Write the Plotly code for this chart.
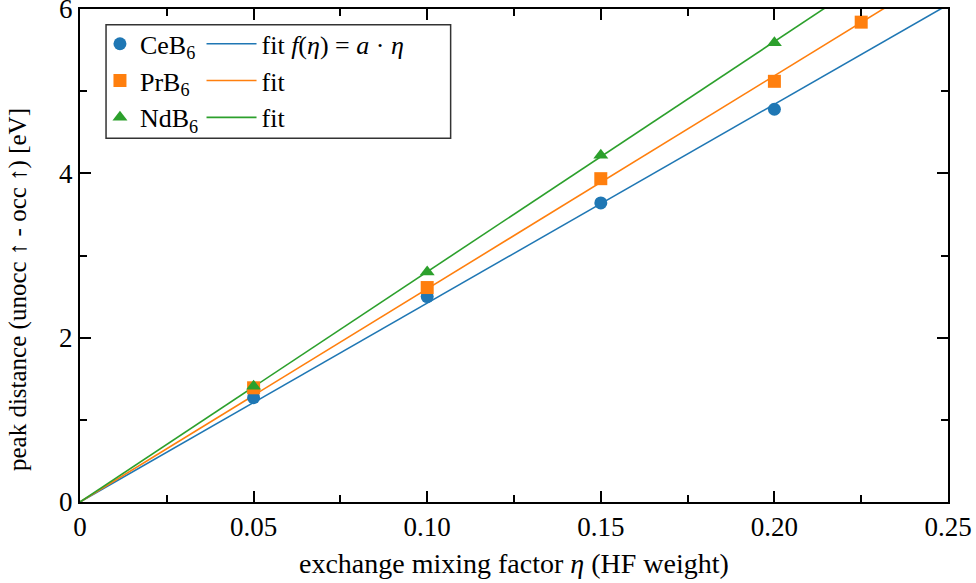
import numpy as np
import plotly.graph_objects as go

# exchange mixing factor eta (HF weight) and peak distances in eV
eta_ce = [0.05, 0.10, 0.15, 0.20]
dist_ce = [1.27, 2.50, 3.64, 4.78]

eta_pr = [0.05, 0.10, 0.15, 0.20, 0.225]
dist_pr = [1.39, 2.61, 3.935, 5.12, 5.84]

eta_nd = [0.05, 0.10, 0.15, 0.20]
dist_nd = [1.41, 2.80, 4.22, 5.59]

names = ["CeB<sub>6</sub>", "PrB<sub>6</sub>", "NdB<sub>6</sub>"]
fit_names = ["fit <i>f</i>(<i>η</i>) = <i>a</i> · <i>η</i>", "fit", "fit"]
colors = ["#1f77b4", "#ff7f0e", "#2ca02c"]
symbols = ["circle", "square", "triangle-up"]

x_ticks = [0, 0.05, 0.10, 0.15, 0.20, 0.25]
x_ticklabels = ["0", "0.05", "0.10", "0.15", "0.20", "0.25"]
y_ticks = [0, 2, 4, 6]

x_title = "exchange mixing factor <i>η</i> (HF weight)"
y_title = "peak distance (unocc ↑ - occ ↑) [eV]"

FONT = "Liberation Serif, Times New Roman, serif"
fig = go.Figure()

series = [(eta_ce, dist_ce), (eta_pr, dist_pr), (eta_nd, dist_nd)]
fit_x = np.array([0.0, 0.25])

# linear fits through the origin: f(eta) = a * eta
for (xs, ys), fname, col in zip(series, fit_names, colors):
    xs_a, ys_a = np.asarray(xs), np.asarray(ys)
    a = float(np.sum(xs_a * ys_a) / np.sum(xs_a ** 2))
    fig.add_trace(go.Scatter(
        x=fit_x, y=a * fit_x, mode="lines", name=fname,
        line=dict(color=col, width=1.6), legend="legend2",
    ))

for (xs, ys), name, col, sym in zip(series, names, colors, symbols):
    fig.add_trace(go.Scatter(
        x=xs, y=ys, mode="markers", name=name,
        marker=dict(color=col, symbol=sym, size=13, line=dict(width=0)),
        legend="legend",
    ))

axis_common = dict(
    showline=True, linecolor="black", linewidth=2, mirror="allticks",
    ticks="inside", ticklen=11, tickwidth=2, tickcolor="black",
    showgrid=False, zeroline=False, ticklabeloverflow="allow",
    automargin=False,
    tickfont=dict(family=FONT, size=27, color="black"),
)

fig.update_xaxes(
    range=[0, 0.25], tickvals=x_ticks, ticktext=x_ticklabels,
    minor=dict(dtick=0.025, ticks="inside", ticklen=7, tickwidth=2,
               tickcolor="black", showgrid=False),
    **axis_common,
)
fig.update_yaxes(
    range=[0, 6], tickvals=y_ticks,
    minor=dict(dtick=1, ticks="inside", ticklen=7, tickwidth=2,
               tickcolor="black", showgrid=False),
    **axis_common,
)

# axis titles placed as paper-anchored annotations
fig.add_annotation(text=x_title, xref="paper", yref="paper",
                   x=0.5, y=-0.124, xanchor="center", yanchor="middle",
                   showarrow=False,
                   font=dict(family=FONT, size=28, color="black"))
fig.add_annotation(text=y_title, xref="paper", yref="paper",
                   x=-0.0714, y=0.43, xanchor="center", yanchor="middle",
                   textangle=-90, showarrow=False,
                   font=dict(family=FONT, size=25, color="black"))

legend_font = dict(family=FONT, size=26, color="black")
fig.update_layout(
    width=976, height=583,
    margin=dict(l=80, r=28, t=9, b=81),
    plot_bgcolor="white", paper_bgcolor="white",
    font=dict(family=FONT, color="black"),
    legend=dict(x=0.023, y=0.977, xanchor="left", yanchor="top",
                font=legend_font, bgcolor="rgba(0,0,0,0)",
                itemwidth=30, tracegroupgap=0),
    legend2=dict(x=0.14, y=0.977, xanchor="left", yanchor="top",
                 font=legend_font, bgcolor="rgba(0,0,0,0)",
                 itemwidth=50, tracegroupgap=0),
    shapes=[dict(type="rect", xref="paper", yref="paper",
                 x0=0.030, x1=0.427, y0=0.738, y1=0.968,
                 line=dict(color="#333333", width=1.5),
                 fillcolor="rgba(0,0,0,0)", layer="above")],
)

fig.write_html("out.html")
